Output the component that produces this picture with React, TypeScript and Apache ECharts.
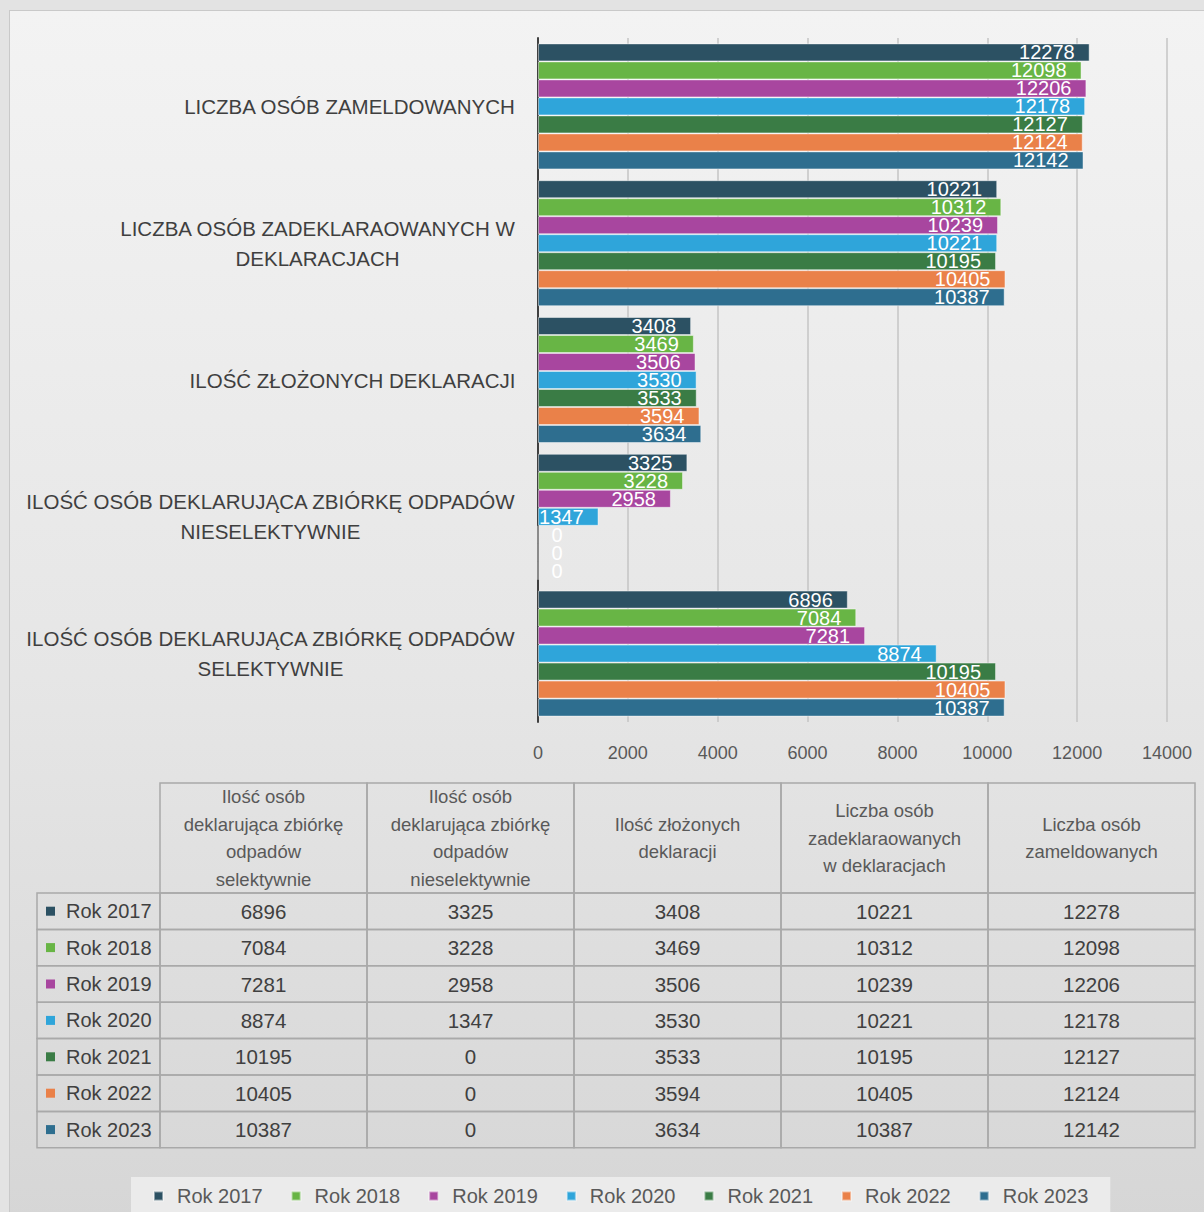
import React, { useEffect, useRef } from "react";
import * as echarts from "echarts";

// ---------- data ----------
const years = ["Rok 2017", "Rok 2018", "Rok 2019", "Rok 2020", "Rok 2021", "Rok 2022", "Rok 2023"];
const colors = ["#2c5163", "#68b545", "#a8469f", "#2fa5da", "#3a7c45", "#ea8149", "#2e6e8f"];

// category order = table column order (bottom -> top in the chart)
const axisCategories = [
  "ILOŚĆ OSÓB DEKLARUJĄCA ZBIÓRKĘ ODPADÓW\nSELEKTYWNIE",
  "ILOŚĆ OSÓB DEKLARUJĄCA ZBIÓRKĘ ODPADÓW\nNIESELEKTYWNIE",
  "ILOŚĆ ZŁOŻONYCH DEKLARACJI",
  "LICZBA OSÓB ZADEKLARAOWANYCH W\nDEKLARACJACH",
  "LICZBA OSÓB ZAMELDOWANYCH",
];
const tableHeaders = [
  "Ilość osób\ndeklarująca zbiórkę\nodpadów\nselektywnie",
  "Ilość osób\ndeklarująca zbiórkę\nodpadów\nnieselektywnie",
  "Ilość złożonych\ndeklaracji",
  "Liczba osób\nzadeklaraowanych\nw deklaracjach",
  "Liczba osób\nzameldowanych",
];

const rok2017 = [6896, 3325, 3408, 10221, 12278];
const rok2018 = [7084, 3228, 3469, 10312, 12098];
const rok2019 = [7281, 2958, 3506, 10239, 12206];
const rok2020 = [8874, 1347, 3530, 10221, 12178];
const rok2021 = [10195, 0, 3533, 10195, 12127];
const rok2022 = [10405, 0, 3594, 10405, 12124];
const rok2023 = [10387, 0, 3634, 10387, 12142];
const seriesValues = [rok2017, rok2018, rok2019, rok2020, rok2021, rok2022, rok2023];

const xMin = 0;
const xMax = 14000;
const xInterval = 2000;

// ---------- styling ----------
const FONT = "'Liberation Sans', Arial, Helvetica, sans-serif";
const CAT_FONT_SIZE = 20.5;

function measure(text: string, size: number): number {
  const c = document.createElement("canvas").getContext("2d");
  if (!c) return text.length * size * 0.6;
  c.font = `${size}px ${FONT}`;
  return c.measureText(text).width;
}

export default function App() {
  const ref = useRef<HTMLDivElement>(null);

  useEffect(() => {
    if (!ref.current) return;
    const chart = echarts.init(ref.current, null, { renderer: "svg" });

    const rich: Record<string, any> = {};
    axisCategories.forEach((label, i) => {
      const w = Math.max(...label.split("\n").map((l) => measure(l, CAT_FONT_SIZE)));
      rich["c" + i] = {
        width: Math.ceil(w) + 1,
        align: "center",
        fontSize: CAT_FONT_SIZE,
        lineHeight: 30,
        color: "#3f3f3f",
        fontFamily: FONT,
      };
    });

    const series = years.map((name, si) => ({
      name,
      type: "bar",
      barWidth: 18,
      barGap: "0%",
      itemStyle: { color: colors[si], borderColor: "rgba(255,255,255,0.45)", borderWidth: 1 },
      label: {
        show: true,
        position: "insideRight",
        distance: 15,
        color: "#ffffff",
        fontSize: 20,
        fontFamily: FONT,
      },
      data: seriesValues[si].map((v) =>
        v === 0 ? { value: v, label: { position: "right", distance: 13 } } : v
      ),
    }));

    // ---------- data table (graphic) ----------
    const tLeft = 37;
    const labelW = 123;
    const colX0 = 160;
    const colW = 207;
    const headTop = 783;
    const headH = 110;
    const rowH = 36.4;
    const border = { fill: "none", stroke: "#a9a9a9", lineWidth: 1.5 };
    const graphics: any[] = [];

    tableHeaders.forEach((h, ci) => {
      const x = colX0 + ci * colW;
      graphics.push({ type: "rect", shape: { x, y: headTop, width: colW, height: headH }, style: { ...border } });
      graphics.push({
        type: "text",
        x: x + colW / 2,
        y: headTop + headH / 2,
        style: {
          text: h,
          fill: "#595959",
          fontSize: 18.5,
          fontFamily: FONT,
          lineHeight: 27.5,
          align: "center",
          verticalAlign: "middle",
          textAlign: "center",
          textVerticalAlign: "middle",
        },
      });
    });

    years.forEach((yr, ri) => {
      const y = headTop + headH + ri * rowH;
      const cy = y + rowH / 2;
      graphics.push({ type: "rect", shape: { x: tLeft, y, width: labelW, height: rowH }, style: { ...border } });
      graphics.push({ type: "rect", shape: { x: tLeft + 9, y: cy - 4.5, width: 9, height: 9 }, style: { fill: colors[ri] } });
      graphics.push({
        type: "text",
        x: tLeft + 29,
        y: cy,
        style: {
          text: yr,
          fill: "#404040",
          fontSize: 20,
          fontFamily: FONT,
          align: "left",
          verticalAlign: "middle",
          textAlign: "left",
          textVerticalAlign: "middle",
        },
      });
      seriesValues[ri].forEach((v, ci) => {
        const x = colX0 + ci * colW;
        graphics.push({ type: "rect", shape: { x, y, width: colW, height: rowH }, style: { ...border } });
        graphics.push({
          type: "text",
          x: x + colW / 2,
          y: cy,
          style: {
            text: String(v),
            fill: "#404040",
            fontSize: 20.5,
            fontFamily: FONT,
            align: "center",
            verticalAlign: "middle",
            textAlign: "center",
            textVerticalAlign: "middle",
          },
        });
      });
    });

    const option: any = {
      animation: false,
      textStyle: { fontFamily: FONT },
      grid: { left: 538, right: 37, top: 38, bottom: 490, containLabel: false },
      xAxis: {
        type: "value",
        min: xMin,
        max: xMax,
        interval: xInterval,
        axisLine: { show: false },
        axisTick: { show: false },
        splitLine: { show: true, lineStyle: { color: "#c4c4c4", width: 1.5 } },
        axisLabel: {
          fontSize: 18,
          color: "#595959",
          margin: 22,
          fontFamily: FONT,
          formatter: (v: number) => String(v),
        },
      },
      yAxis: {
        type: "category",
        data: axisCategories,
        axisLine: { show: true, lineStyle: { color: "#404040", width: 2 } },
        axisTick: { show: false },
        axisLabel: {
          margin: 22,
          align: "right",
          formatter: (value: string, index: number) =>
            value
              .split("\n")
              .map((l) => `{c${index}|${l}}`)
              .join("\n"),
          rich,
        },
      },
      legend: {
        data: years,
        left: 131,
        top: 1177,
        padding: [9, 22, 9, 22],
        backgroundColor: "#ebebeb",
        icon: "rect",
        itemWidth: 9,
        itemHeight: 9,
        itemGap: 28,
        textStyle: { fontSize: 20, color: "#595959", fontFamily: FONT, padding: [0, 0, 0, 9] },
      },
      graphic: graphics,
      series,
    };

    chart.setOption(option);
    return () => chart.dispose();
  }, []);

  return (
    <div
      style={{
        position: "absolute",
        left: 0,
        top: 0,
        width: 1204,
        height: 1212,
        overflow: "hidden",
        background: "#e3e3e3",
      }}
    >
      <div
        style={{
          position: "absolute",
          left: 9,
          top: 10,
          width: 1200,
          height: 1210,
          boxSizing: "border-box",
          border: "1px solid #c9c9c9",
          background: "linear-gradient(180deg, #f3f3f3 0%, #e6e6e6 55%, #d6d6d6 100%)",
        }}
      />
      <div ref={ref} style={{ position: "absolute", left: 0, top: 0, width: 1204, height: 1212 }} />
    </div>
  );
}
